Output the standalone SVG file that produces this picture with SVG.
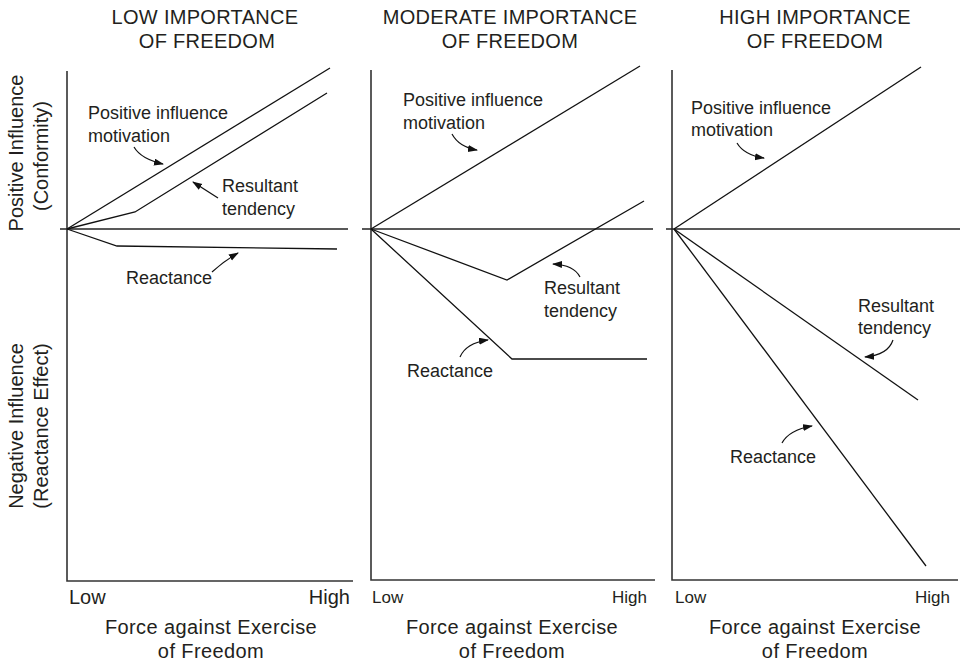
<svg xmlns="http://www.w3.org/2000/svg" width="965" height="667" viewBox="0 0 965 667">
<style>
text{font-family:"Liberation Sans",Arial,Helvetica,sans-serif;fill:#231f20}
.title{font-size:20px;text-anchor:middle;letter-spacing:0.3px}
.ylab{font-size:20px;text-anchor:middle}
.lab{font-size:18px}
.xl1{font-size:20px}
.xl{font-size:17px}
.xt{font-size:20px;text-anchor:middle;letter-spacing:0.4px}
.axis{stroke:#333;stroke-width:1.6;fill:none}
.zero{stroke:#222;stroke-width:1.4;fill:none}
.data{stroke:#111;stroke-width:1.3;fill:none;stroke-linejoin:miter}
.arr{stroke:#111;stroke-width:1.2;fill:none;marker-end:url(#ah)}
</style>
<defs>
<marker id="ah" markerUnits="userSpaceOnUse" markerWidth="12" markerHeight="10" refX="9" refY="3.5" orient="auto">
<path d="M0,0 L10,3.5 L0,7 Z" fill="#111"/>
</marker>
</defs>
<rect width="965" height="667" fill="#fff"/>

<g id="y-labels">
<text class="ylab" transform="translate(23,153) rotate(-90)">Positive Influence</text>
<text class="ylab" transform="translate(48,156) rotate(-90)">(Conformity)</text>
<text class="ylab" transform="translate(23,426) rotate(-90)">Negative Influence</text>
<text class="ylab" transform="translate(48,426) rotate(-90)">(Reactance Effect)</text>
</g>

<g id="panel-low">
<text class="title" x="205" y="24">LOW IMPORTANCE</text>
<text class="title" x="207" y="48">OF FREEDOM</text>
<path class="axis" d="M67,71 V581 H353"/>
<path class="zero" d="M60,229 H348"/>
<path class="data" d="M67,229 L330,68"/>
<path class="data" d="M67,229 L135,212 L327,93"/>
<path class="data" d="M67,229 L117,246 L337,249"/>
<text class="lab" x="88" y="119">Positive influence</text>
<text class="lab" x="88" y="142">motivation</text>
<text class="lab" x="222" y="192">Resultant</text>
<text class="lab" x="222" y="215">tendency</text>
<text class="lab" x="126" y="284">Reactance</text>
<text class="xl1" x="69" y="604">Low</text>
<text class="xl1" x="350" y="604" text-anchor="end">High</text>
<text class="xt" x="211" y="634">Force against Exercise</text>
<text class="xt" x="211" y="658">of Freedom</text>
</g>

<g id="panel-moderate">
<text class="title" x="510" y="24">MODERATE IMPORTANCE</text>
<text class="title" x="510" y="48">OF FREEDOM</text>
<path class="axis" d="M371,70 V580 H655"/>
<path class="zero" d="M362,229 H653"/>
<path class="data" d="M371,229 L640,66"/>
<path class="data" d="M371,229 L507,280 L644,201"/>
<path class="data" d="M371,229 L512,359 L647,359"/>
<text class="lab" x="403" y="106">Positive influence</text>
<text class="lab" x="403" y="129">motivation</text>
<text class="lab" x="544" y="294">Resultant</text>
<text class="lab" x="544" y="317">tendency</text>
<text class="lab" x="407" y="377">Reactance</text>
<text class="xl" x="372" y="603">Low</text>
<text class="xl" x="647" y="603" text-anchor="end">High</text>
<text class="xt" x="512" y="634">Force against Exercise</text>
<text class="xt" x="512" y="658">of Freedom</text>
</g>

<g id="panel-high">
<text class="title" x="815" y="24">HIGH IMPORTANCE</text>
<text class="title" x="815" y="48">OF FREEDOM</text>
<path class="axis" d="M672,70 V580 H958"/>
<path class="zero" d="M666,229 H960"/>
<path class="data" d="M674,229 L921,67"/>
<path class="data" d="M674,229 L918,400"/>
<path class="data" d="M674,229 L926,566"/>
<text class="lab" x="691" y="114">Positive influence</text>
<text class="lab" x="691" y="136">motivation</text>
<text class="lab" x="858" y="312">Resultant</text>
<text class="lab" x="858" y="334">tendency</text>
<text class="lab" x="730" y="463">Reactance</text>
<text class="xl" x="675" y="603">Low</text>
<text class="xl" x="950" y="603" text-anchor="end">High</text>
<text class="xt" x="815" y="634">Force against Exercise</text>
<text class="xt" x="815" y="658">of Freedom</text>
</g>

<g id="connectors">
<path class="arr" d="M134,147 Q141,159 163,164"/>
<path class="arr" d="M218,198 L193,182"/>
<path class="arr" d="M212,272 Q224,261 238,253"/>
<path class="arr" d="M452,134 Q459,147 477,150"/>
<path class="arr" d="M580,277 Q574,265 553,264"/>
<path class="arr" d="M460,357 Q466,343 488,340"/>
<path class="arr" d="M737,143 Q744,155 764,158"/>
<path class="arr" d="M893,340 Q888,355 865,357"/>
<path class="arr" d="M782,443 Q789,430 812,426"/>
</g>
</svg>
